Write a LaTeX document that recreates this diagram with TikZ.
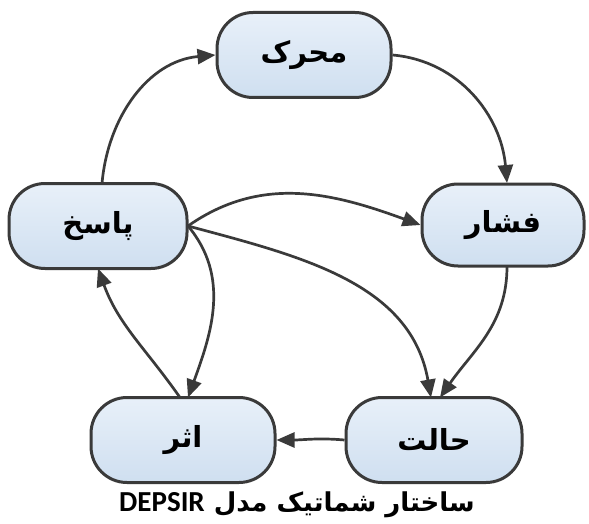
\documentclass[tikz,border=0pt]{standalone}
\usepackage{fontspec}
\TeXXeTstate=1
\newfontfamily\arabicfont[Script=Arabic]{DejaVu Sans}
\newfontfamily\latinbold{Carlito}
\usetikzlibrary{arrows.meta}
\definecolor{boxtop}{HTML}{E8F0F9}
\definecolor{boxbot}{HTML}{CFDFF0}
\definecolor{edgegray}{HTML}{3A3A3A}
\tikzset{
  stagebox/.style={draw=edgegray, line width=3pt, rounded corners=36pt,
    top color=boxtop, bottom color=boxbot, minimum width=174pt, minimum height=85pt,
    font=\arabicfont\bfseries\fontsize{29}{32}\selectfont},
  flow/.style={draw=edgegray, line width=2.7pt, -{Triangle[length=18pt,width=15pt]}},
}
\begin{document}
\begin{tikzpicture}[x=1pt,y=-1pt]
\useasboundingbox (0,0) rectangle (589,524);
\node[stagebox] (mohar) at (304,55) {\beginR محرک\endR};
\node[stagebox, minimum width=178pt] (resp) at (98,226) {\beginR پاسخ\endR};
\node[stagebox, minimum width=162pt, minimum height=82pt] (fesh) at (503,225) {\beginR فشار\endR};
\node[stagebox, minimum width=176pt] (hal) at (434,440) {\beginR حالت\endR};
\node[stagebox, minimum width=184pt] (athar) at (183,440) {\beginR اثر\endR};
\node (cap) at (297,505) {\arabicfont\bfseries\fontsize{26}{30}\selectfont\beginR ساختار شماتیک مدل {\latinbold\bfseries\fontsize{29}{32}\selectfont\beginL DEPSIR\endL}\endR};
\coordinate (respN) at (102,183.5);
\coordinate (feshN) at (507,183);
\coordinate (feshS) at (507,266.5);
\coordinate (halN1) at (431,397.5);
\coordinate (halN2) at (440,397.5);
\coordinate (athN1) at (188,397.5);
\coordinate (athN2) at (180,397.5);
\coordinate (respS) at (98,268.5);
\coordinate (respE) at (188,226);
\draw[flow] (respN) to[out=85,in=185] (mohar.west);
\draw[flow] (mohar.east) to[out=-5,in=95] (feshN);
\draw[flow] (respE) to[out=35,in=160] (fesh.west);
\draw[flow] (feshS) to[out=-90,in=55] (halN2);
\draw[flow] (respE) to[out=-15,in=100] (halN1);
\draw[flow] (respE) to[out=-50,in=70] (athN1);
\draw[flow] (athN2) to[out=125,in=-70] (respS);
\draw[flow] (hal.west) to[out=175,in=0] (athar.east);
\end{tikzpicture}
\end{document}
